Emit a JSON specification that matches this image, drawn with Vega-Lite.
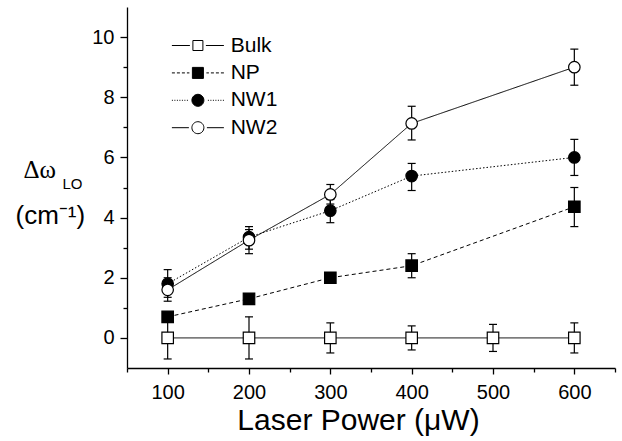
{
  "$schema": "https://vega.github.io/schema/vega-lite/v6.json",
  "width": 488,
  "height": 361,
  "autosize": "none",
  "padding": {"left": 127, "top": 7, "right": 7, "bottom": 73},
  "background": "white",
  "config": {
    "view": {"stroke": null},
    "font": "Liberation Sans",
    "axis": {
      "domainColor": "black", "domainWidth": 1.3, "tickColor": "black", "tickWidth": 1.3,
      "labelColor": "black", "labelFont": "Liberation Sans", "labelFontSize": 20,
      "grid": false, "titleColor": "black", "titleFontWeight": "normal", "titleFont": "Liberation Sans"
    }
  },
  "data": {"values": [
    {"series": "Bulk", "power": 100, "value": 0, "lo": -0.7, "hi": 0.7},
    {"series": "Bulk", "power": 200, "value": 0, "lo": -0.7, "hi": 0.7},
    {"series": "Bulk", "power": 300, "value": 0, "lo": -0.5, "hi": 0.5},
    {"series": "Bulk", "power": 400, "value": 0, "lo": -0.4, "hi": 0.4},
    {"series": "Bulk", "power": 500, "value": 0, "lo": -0.45, "hi": 0.45},
    {"series": "Bulk", "power": 600, "value": 0, "lo": -0.5, "hi": 0.5},
    {"series": "NP", "power": 100, "value": 0.7, "lo": 0.55, "hi": 0.85},
    {"series": "NP", "power": 200, "value": 1.3, "lo": 1.15, "hi": 1.45},
    {"series": "NP", "power": 300, "value": 2.0, "lo": 1.85, "hi": 2.15},
    {"series": "NP", "power": 400, "value": 2.4, "lo": 2.0, "hi": 2.8},
    {"series": "NP", "power": 600, "value": 4.36, "lo": 3.7, "hi": 5.0},
    {"series": "NW1", "power": 100, "value": 1.8, "lo": 1.35, "hi": 2.27},
    {"series": "NW1", "power": 200, "value": 3.35, "lo": 2.95, "hi": 3.6},
    {"series": "NW1", "power": 300, "value": 4.23, "lo": 3.83, "hi": 4.6},
    {"series": "NW1", "power": 400, "value": 5.38, "lo": 4.9, "hi": 5.8},
    {"series": "NW1", "power": 600, "value": 6.0, "lo": 5.4, "hi": 6.6},
    {"series": "NW2", "power": 100, "value": 1.6, "lo": 1.22, "hi": 2.0},
    {"series": "NW2", "power": 200, "value": 3.25, "lo": 2.8, "hi": 3.7},
    {"series": "NW2", "power": 300, "value": 4.77, "lo": 4.45, "hi": 5.1},
    {"series": "NW2", "power": 400, "value": 7.13, "lo": 6.58, "hi": 7.7},
    {"series": "NW2", "power": 600, "value": 9.0, "lo": 8.4, "hi": 9.6}
  ]},
  "resolve": {
    "scale": {"shape": "independent", "fill": "independent", "stroke": "independent"},
    "axis": {"x": "independent", "y": "independent"}
  },
  "layer": [
    {
      "mark": {"type": "line", "color": "black", "strokeWidth": 1},
      "encoding": {
        "x": {"field": "power", "type": "quantitative",
          "scale": {"domain": [50, 650], "nice": false, "zero": false},
          "axis": {
            "values": [50, 100, 150, 200, 250, 300, 350, 400, 450, 500, 550, 600, 650],
            "labelExpr": "datum.value % 100 === 0 ? datum.label : ''",
            "tickSize": {"condition": {"test": "datum.value % 100 === 0", "value": 6}, "value": 4},
            "labelPadding": 24, "labelBaseline": "alphabetic", "labelOverlap": false, "labelFlush": false,
            "title": "Laser Power (μW)", "titleFontSize": 30, "titleX": 231, "titleY": 61,
            "titleBaseline": "alphabetic", "titleAlign": "center"
          }
        },
        "y": {"field": "value", "type": "quantitative",
          "scale": {"domain": [-1, 11], "nice": false, "zero": false},
          "axis": {
            "values": [0, 1, 2, 3, 4, 5, 6, 7, 8, 9, 10],
            "labelExpr": "datum.value % 2 === 0 ? datum.label : ''",
            "tickSize": {"condition": {"test": "datum.value % 2 === 0", "value": 7}, "value": 4},
            "labelPadding": 6, "labelOverlap": false, "labelFlush": false,
            "title": "Δω", "titleFont": "Liberation Serif", "titleFontSize": 25, "titleAngle": 0,
            "titleAlign": "left", "titleBaseline": "alphabetic", "titleX": -104, "titleY": 170
          }
        },
        "strokeDash": {"field": "series", "type": "nominal",
          "scale": {"domain": ["Bulk", "NP", "NW1", "NW2"], "range": [[1, 0], [4, 3], [1.5, 2], [1, 0]]},
          "legend": null}
      }
    },
    {
      "mark": {"type": "rule", "color": "black", "strokeWidth": 1.2},
      "encoding": {
        "x": {"field": "power", "type": "quantitative",
          "axis": {"orient": "top", "title": "(cm⁻¹)", "domain": false, "ticks": false, "labels": false,
            "titleX": -112, "titleY": 216, "titleAlign": "left", "titleBaseline": "alphabetic", "titleFontSize": 26}},
        "y": {"field": "lo", "type": "quantitative",
          "axis": {"orient": "right", "title": "LO", "domain": false, "ticks": false, "labels": false,
            "titleX": -553, "titleY": 181, "titleAngle": 0, "titleAlign": "left", "titleBaseline": "alphabetic", "titleFontSize": 15}},
        "y2": {"field": "hi"}
      }
    },
    {
      "mark": {"type": "tick", "orient": "horizontal", "size": 8, "thickness": 1.2, "color": "black", "opacity": 1},
      "encoding": {
        "x": {"field": "power", "type": "quantitative", "axis": null},
        "y": {"field": "lo", "type": "quantitative", "axis": null}
      }
    },
    {
      "mark": {"type": "tick", "orient": "horizontal", "size": 8, "thickness": 1.2, "color": "black", "opacity": 1},
      "encoding": {
        "x": {"field": "power", "type": "quantitative", "axis": null},
        "y": {"field": "hi", "type": "quantitative", "axis": null}
      }
    },
    {
      "mark": {"type": "point", "stroke": "black", "strokeWidth": 1.2, "opacity": 1, "size": 132},
      "encoding": {
        "x": {"field": "power", "type": "quantitative", "axis": null},
        "y": {"field": "value", "type": "quantitative", "axis": null},
        "shape": {"field": "series", "type": "nominal",
          "scale": {"domain": ["Bulk", "NP", "NW1", "NW2"], "range": ["square", "square", "circle", "circle"]},
          "legend": null},
        "fill": {"field": "series", "type": "nominal",
          "scale": {"domain": ["Bulk", "NP", "NW1", "NW2"], "range": ["white", "black", "black", "white"]},
          "legend": null}
      }
    },
    {
      "transform": [{"filter": "false"}],
      "mark": {"type": "point", "strokeWidth": 1, "size": 100},
      "encoding": {
        "x": {"field": "power", "type": "quantitative", "axis": null},
        "y": {"field": "value", "type": "quantitative", "axis": null},
        "shape": {"field": "series", "type": "nominal",
          "scale": {"domain": ["Bulk", "NP", "NW1", "NW2"], "range": [
            "M-5.2,0H-1.6M1.6,0H5.2M-1,-1H1V1H-1Z",
            "M-5.2,0H-4.6M-4.2,0H-3.6M-3.2,0H-2.6M-2.2,0H-1.7M1.7,0H2.2M2.6,0H3.2M3.6,0H4.2M4.6,0H5.2M-1.1,-1.1H1.1V1.1H-1.1Z",
            "M-5.2,0h0.2M-4.7,0h0.2M-4.2,0h0.2M-3.7,0h0.2M-3.2,0h0.2M-2.7,0h0.2M-2.2,0h0.2M2,0h0.2M2.5,0h0.2M3,0h0.2M3.5,0h0.2M4,0h0.2M4.5,0h0.2M5,0h0.2M1.2,0A1.2,1.2,0,1,1,-1.2,0A1.2,1.2,0,1,1,1.2,0Z",
            "M-5.2,0H-1.8M1.8,0H5.2M1.2,0A1.2,1.2,0,1,1,-1.2,0A1.2,1.2,0,1,1,1.2,0Z"
          ]},
          "legend": {"orient": "none", "legendX": 60.4, "legendY": 28, "title": null, "padding": 0,
            "labelFont": "Liberation Sans", "labelFontSize": 21, "labelColor": "black", "labelOffset": 22.3,
            "symbolSize": 100, "symbolStrokeWidth": 1, "symbolOpacity": 1, "rowPadding": 5.4}},
        "fill": {"field": "series", "type": "nominal",
          "scale": {"domain": ["Bulk", "NP", "NW1", "NW2"], "range": ["white", "black", "black", "white"]},
          "legend": {"orient": "none", "legendX": 60.4, "legendY": 28, "title": null, "padding": 0,
            "labelFont": "Liberation Sans", "labelFontSize": 21, "labelColor": "black", "labelOffset": 22.3,
            "symbolSize": 100, "symbolStrokeWidth": 1, "symbolOpacity": 1, "rowPadding": 5.4}},
        "stroke": {"field": "series", "type": "nominal",
          "scale": {"domain": ["Bulk", "NP", "NW1", "NW2"], "range": ["black", "black", "black", "black"]},
          "legend": {"orient": "none", "legendX": 60.4, "legendY": 28, "title": null, "padding": 0,
            "labelFont": "Liberation Sans", "labelFontSize": 21, "labelColor": "black", "labelOffset": 22.3,
            "symbolSize": 100, "symbolStrokeWidth": 1, "symbolOpacity": 1, "rowPadding": 5.4}}
      }
    }
  ]
}
